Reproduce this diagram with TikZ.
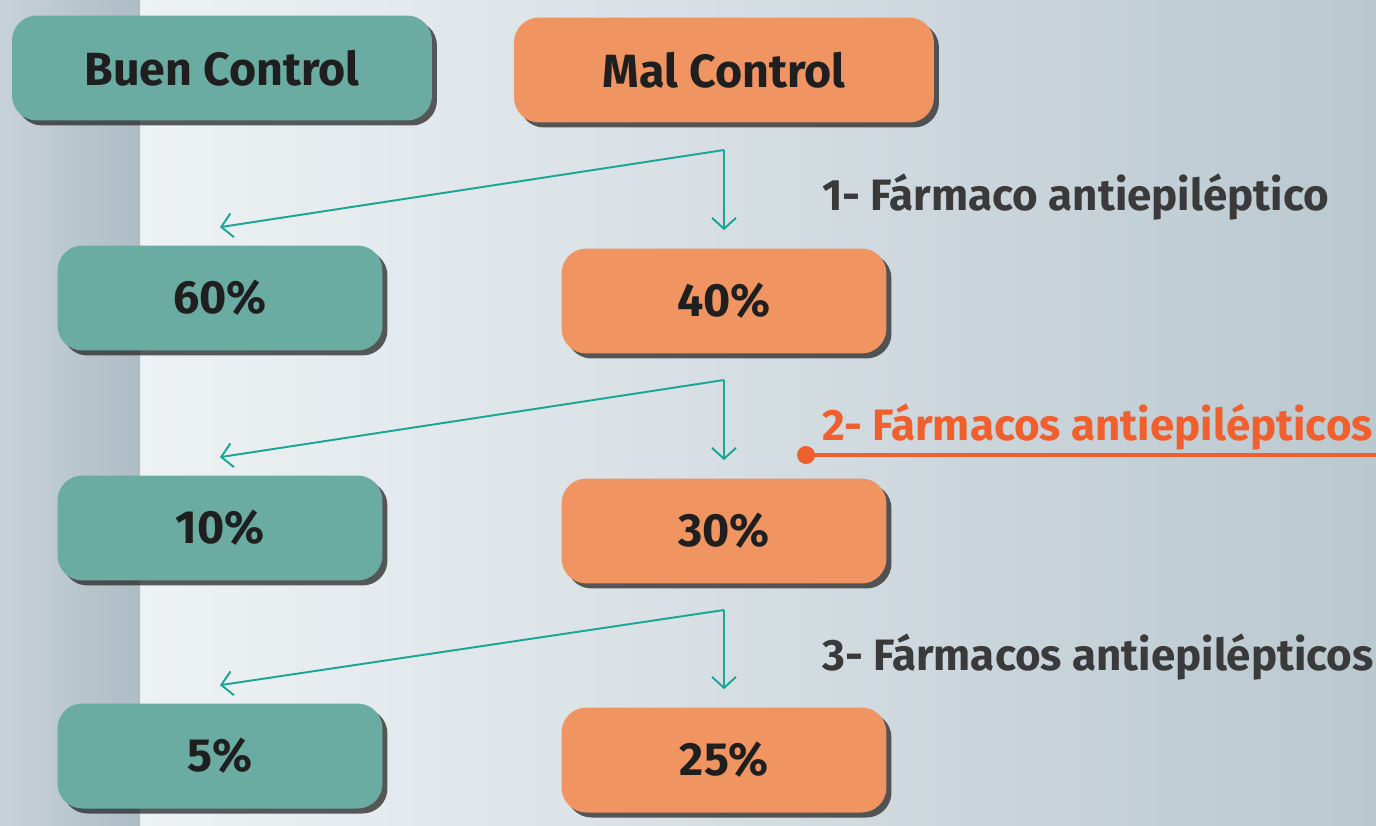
\documentclass[tikz,border=0pt]{standalone}
\usepackage{fontspec}
\setmainfont{Fira Sans}
\usetikzlibrary{arrows.meta,shadows}

\definecolor{stripcol}{HTML}{AEBCC5}
\definecolor{bglight}{HTML}{EEF2F4}
\definecolor{bgdark}{HTML}{BAC8D0}
\definecolor{goodfill}{HTML}{6AABA2}
\definecolor{badfill}{HTML}{F09462}
\definecolor{arrowcol}{HTML}{1AA595}
\definecolor{stepred}{HTML}{F0602E}
\definecolor{stepgray}{HTML}{3A3A3A}

\tikzset{
  ctrlbox/.style={rounded corners=0.5cm, minimum height=2.1cm,
    font=\fontsize{26.5}{30}\selectfont\bfseries, text=black!88,
    drop shadow={shadow xshift=0.1cm, shadow yshift=-0.1cm, opacity=0.75, fill=black!85}},
  goodbox/.style={ctrlbox, fill=goodfill},
  badbox/.style={ctrlbox, fill=badfill},
  headbox/.style={minimum width=8.4cm},
  pctbox/.style={minimum width=6.5cm},
  split/.style={draw=arrowcol, line width=1.1pt, -{Straight Barb[length=0.22cm, width=0.48cm]}},
  steplabel/.style={anchor=west, font=\fontsize{25}{29}\selectfont\bfseries, text=stepgray},
}

\begin{document}
\begin{tikzpicture}[x=0.02cm, y=-0.02cm]
  \useasboundingbox (0,0) rectangle (1376,825);
  \shade[left color=bglight, right color=bgdark] (140,0) rectangle (1376,825);
  \shade[left color=stripcol!60!bglight, right color=stripcol] (0,0) rectangle (140,825);

  \node[goodbox, headbox] (buen) at (222,68) {Buen Control};
  \node[badbox, headbox] (mal) at (724,70) {Mal Control};

  \node[goodbox, pctbox] (g1) at (220,298) {60\%};
  \node[badbox, pctbox] (b1) at (724,301) {40\%};
  \node[goodbox, pctbox] (g2) at (220,528) {10\%};
  \node[badbox, pctbox] (b2) at (724,531) {30\%};
  \node[goodbox, pctbox] (g3) at (220,756) {5\%};
  \node[badbox, pctbox] (b3) at (724,760) {25\%};

  \coordinate (s1) at (724,150);
  \coordinate (s2) at (724,380);
  \coordinate (s3) at (724,610);
  \draw[split] (s1) -- ([yshift=0.36cm]g1.north);
  \draw[split] (s1) -- ([yshift=0.36cm]b1.north);
  \draw[split] (s2) -- ([yshift=0.36cm]g2.north);
  \draw[split] (s2) -- ([yshift=0.36cm]b2.north);
  \draw[split] (s3) -- ([yshift=0.36cm]g3.north);
  \draw[split] (s3) -- ([yshift=0.36cm]b3.north);

  \node[steplabel] (f1) at (816,197) {1- Fármaco antiepiléptico};
  \node[steplabel, text=stepred] (f2) at (816,427) {2- Fármacos antiepilépticos};
  \node[steplabel] (f3) at (816,657) {3- Fármacos antiepilépticos};

  \coordinate (dot) at (806,455);
  \coordinate (lineend) at (1376,455);
  \fill[stepred] (dot) circle (0.18cm);
  \draw[stepred, line width=1.8pt] (dot) -- (lineend);
\end{tikzpicture}
\end{document}
